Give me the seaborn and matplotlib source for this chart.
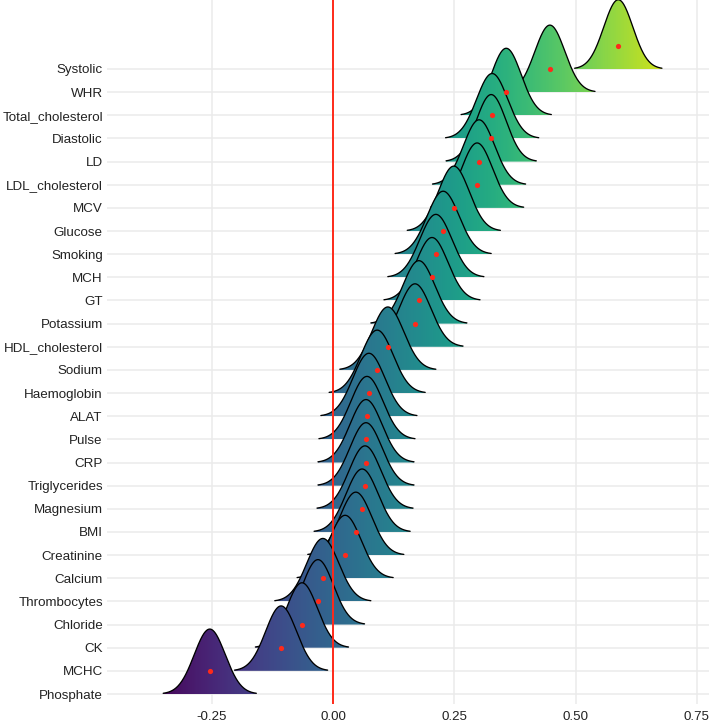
import numpy as np
import pandas as pd
import seaborn as sns
import matplotlib.pyplot as plt
from matplotlib.colors import Normalize

# variables, top to bottom as shown
variables = ["Systolic", "WHR", "Total_cholesterol", "Diastolic", "LD",
             "LDL_cholesterol", "MCV", "Glucose", "Smoking", "MCH", "GT",
             "Potassium", "HDL_cholesterol", "Sodium", "Haemoglobin", "ALAT",
             "Pulse", "CRP", "Triglycerides", "Magnesium", "BMI", "Creatinine",
             "Calcium", "Thrombocytes", "Chloride", "CK", "MCHC", "Phosphate"]
# centre of each ridge (red dot)
means = [0.588, 0.447, 0.357, 0.328, 0.326, 0.301, 0.297, 0.249, 0.227,
         0.212, 0.204, 0.177, 0.169, 0.113, 0.091, 0.074, 0.070, 0.068,
         0.068, 0.066, 0.060, 0.047, 0.025, -0.021, -0.031, -0.064,
         -0.107, -0.254]
# spread of each ridge
sds = [0.030, 0.031, 0.031, 0.032, 0.031, 0.032, 0.032, 0.032, 0.033,
       0.033, 0.033, 0.033, 0.033, 0.033, 0.033, 0.033, 0.033, 0.033,
       0.033, 0.033, 0.033, 0.033, 0.033, 0.033, 0.032, 0.032, 0.032,
       0.032]
xticks = [-0.25, 0.0, 0.25, 0.50, 0.75]
xtick_labels = ["-0.25", "0.00", "0.25", "0.50", "0.75"]

df = pd.DataFrame({"variable": variables, "mean": means, "sd": sds})
n = len(df)
df["pos"] = np.arange(n)[::-1]          # Phosphate = 0 at bottom
df["dot_y"] = df["pos"] + 1             # dots sit one row above baseline

sns.set_theme(style="white")
plt.rcParams["font.family"] = ["Liberation Sans", "DejaVu Sans"]

W, H = 709, 726
fig = plt.figure(figsize=(W / 100, H / 100), dpi=100)
ax = fig.add_axes([107 / W, (H - 704) / H, (W - 107) / W, 704 / H])

cmap = sns.color_palette("viridis", as_cmap=True)
norm = Normalize(vmin=-0.37, vmax=0.76)
grad = np.linspace(-0.37, 0.76, 600).reshape(1, -1)
kscale = 0.225  # rows per density unit

# grid
for p in df["pos"]:
    ax.axhline(p, color="#EBEBEB", lw=1.1, zorder=0)
for xt in xticks:
    ax.axvline(xt, color="#EBEBEB", lw=1.1, zorder=0)

# ridges, top row first so lower ridges sit in front
for k, row in df.iterrows():
    xs = np.linspace(row["mean"] - 3.0 * row["sd"], row["mean"] + 3.0 * row["sd"], 300)
    dens = np.exp(-0.5 * ((xs - row["mean"]) / row["sd"]) ** 2) / (row["sd"] * np.sqrt(2 * np.pi))
    top = row["pos"] + dens * kscale
    z = 2 + k * 0.01
    poly = ax.fill_between(xs, row["pos"], top, facecolor="none", edgecolor="none", zorder=z)
    im = ax.imshow(grad, cmap=cmap, norm=norm, aspect="auto", interpolation="bilinear",
                   extent=[-0.37, 0.76, row["pos"], row["pos"] + 3.5], zorder=z)
    im.set_clip_path(poly.get_paths()[0], transform=ax.transData)
    ax.plot(xs, top, color="black", lw=0.95, zorder=z + 0.005, solid_capstyle="round")

ax.axvline(0, color="#FF2A1A", lw=1.4, zorder=50)
sns.scatterplot(data=df, x="mean", y="dot_y", color="#FF2A1A", s=14, linewidth=0,
                ax=ax, zorder=60, legend=False)

ax.set_xlim((107 - 333) / 485.2, (709 - 333) / 485.2)
ax.set_ylim(-(704 - 694) / 23.15, 27 + 69 / 23.15)
ax.set_yticks(df["pos"])
ax.set_yticklabels(df["variable"])
ax.set_xticks(xticks)
ax.set_xticklabels(xtick_labels)
ax.tick_params(axis="both", length=0, labelsize=9.6, labelcolor="#222222")
ax.tick_params(axis="y", pad=3)
ax.tick_params(axis="x", pad=5)
ax.set_xlabel("")
ax.set_ylabel("")
for s in ax.spines.values():
    s.set_visible(False)

fig.savefig("out.png", dpi=100)
